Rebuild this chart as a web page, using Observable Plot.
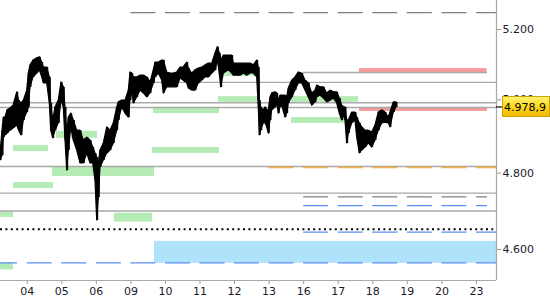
<!DOCTYPE html>
<html>
<head>
<meta charset="utf-8">
<script src="https://cdn.jsdelivr.net/npm/d3@7"></script>
<script src="https://cdn.jsdelivr.net/npm/@observablehq/plot@0.6"></script>
<style>
  html, body { margin: 0; padding: 0; background: #fff; }
  #chart { width: 550px; height: 300px; }
</style>
</head>
<body>
<div id="chart"></div>
<script>
// ---- data ----
const dayLabels = ["04","05","06","09","10","11","12","13","16","17","18","19","20","23"];
const dayIdx = dayLabels.map((_, i) => i);
const xStart = -0.773, xEnd = 13.58;          // visible time span (trading days)
const yDomain = [4521.3, 5284.7];              // visible price span
const yTicks = [4600, 4800, 5000, 5200];
const lastPrice = 4978.9;

// intraday price bars: [time (trading days), high, low]
const priceBars = [
[-0.773,4853,4834],[-0.715,4915,4847],[-0.677,4951,4896],[-0.628,4951,4902],[-0.570,4971,4907],
[-0.483,4976,4915],[-0.396,4984,4921],[-0.289,5021,4929],[-0.237,4998,4915],[-0.165,4990,4902],
[-0.098,4998,4943],[0.000,5026,4965],[0.046,5074,4979],[0.095,5097,5035],[0.182,5111,5063],
[0.289,5117,5074],[0.365,5120,5083],[0.434,5105,5063],[0.480,5091,5046],[0.579,5091,5046],
[0.654,5063,4990],[0.694,4990,4915],[0.752,4943,4894],[0.819,4979,4915],[0.914,4998,4935],
[0.992,5049,4998],[1.059,5035,4979],[1.108,4979,4888],[1.157,4907,4807],[1.204,4951,4861],
[1.273,4962,4924],[1.348,4943,4888],[1.447,4915,4861],[1.542,4915,4826],[1.638,4888,4826],
[1.736,4896,4853],[1.832,4888,4826],[1.910,4869,4826],[1.976,4853,4780],[2.025,4842,4675],
[2.072,4826,4735],[2.121,4861,4815],[2.216,4880,4834],[2.315,4924,4853],[2.410,4915,4861],
[2.506,4935,4880],[2.604,4979,4915],[2.650,4993,4943],[2.749,4998,4979],[2.844,4998,4962],
[2.940,5026,4951],[2.989,5077,4998],[3.038,5074,5026],[3.084,5063,4990],[3.183,5063,5007],
[3.278,5068,5026],[3.374,5068,5018],[3.472,5063,5007],[3.568,5049,5018],[3.663,5083,5046],
[3.712,5105,5063],[3.808,5105,5074],[3.906,5111,5054],[3.953,5111,5018],[4.051,5077,5035],
[4.146,5074,5035],[4.242,5074,5035],[4.340,5077,5035],[4.436,5091,5060],[4.522,5091,5054],
[4.630,5105,5046],[4.676,5088,5032],[4.774,5074,5026],[4.870,5083,5026],[4.965,5088,5046],
[5.064,5091,5054],[5.159,5097,5063],[5.255,5102,5063],[5.353,5102,5074],[5.449,5131,5083],
[5.515,5149,5111],[5.573,5131,5074],[5.613,5111,5035],[5.689,5125,5074],[5.833,5125,5083],
[5.932,5125,5074],[5.978,5102,5068],[6.076,5102,5068],[6.172,5102,5068],[6.267,5102,5074],
[6.366,5102,5068],[6.461,5102,5074],[6.557,5097,5074],[6.655,5111,5063],[6.701,5091,4979],
[6.730,4998,4902],[6.771,4979,4915],[6.846,4971,4935],[6.895,4979,4935],[6.944,4971,4924],
[6.991,4971,4907],[7.040,5007,4943],[7.089,5018,4971],[7.184,5021,4979],[7.234,5018,4990],
[7.280,4998,4962],[7.329,5012,4979],[7.378,5012,4984],[7.474,5012,4951],[7.523,5007,4962],
[7.569,5032,4990],[7.668,5054,5007],[7.763,5063,5026],[7.859,5077,5046],[7.957,5074,5046],
[8.053,5054,5026],[8.148,5046,5007],[8.247,5018,4984],[8.342,5026,4993],[8.391,5040,5007],
[8.487,5035,5012],[8.582,5035,5004],[8.681,5018,4993],[8.776,5026,4998],[8.872,5021,5004],
[8.970,5021,4990],[9.045,5004,4962],[9.115,4984,4943],[9.161,4979,4957],[9.210,4979,4943],
[9.259,4943,4880],[9.306,4943,4907],[9.404,4965,4935],[9.499,4965,4943],[9.549,4951,4896],
[9.624,4935,4853],[9.693,4924,4861],[9.789,4915,4869],[9.884,4915,4880],[9.983,4910,4869],
[10.078,4929,4888],[10.174,4965,4915],[10.272,4971,4935],[10.367,4965,4937],[10.463,4951,4935],
[10.512,4965,4924],[10.608,4993,4965],[10.686,4993,4979]
];

// horizontal levels
const fullLevels = [4992, lastPrice, 4818, 4747, 4700];
const partLevels = [[5049, 3, xEnd], [5077, 8, 13.32]];
const grayDashLevels = [[5249, 3, xEnd], [4737, 8, 13.32]];
const blueDashLevels = [[4714, 8, 13.32], [4645, 8, xEnd], [4566, xStart, xEnd]];
const orangeDashLevels = [[4815, 7, xEnd]];
const dottedLevels = [[4652, xStart, 13.50]];

// zones: [from, to, low, high]
const greenZones = [
  [-0.396, 0.616, 4858, 4874], [0.848, 2.034, 4894, 4913], [0.732, 3.683, 4791, 4815],
  [-0.396, 0.761, 4759, 4775], [xStart, -0.396, 4683, 4698], [2.526, 3.625, 4671, 4694],
  [xStart, -0.396, 4548, 4565], [3.654, 5.564, 4962, 4979], [3.625, 5.564, 4853, 4869],
  [5.535, 6.664, 4993, 5009], [5.535, 6.664, 5066, 5088], [7.648, 9.586, 4993, 5009],
  [7.648, 9.239, 4935, 4951]
];
const redZones = [[9.616, 13.305, 5077, 5088], [9.616, 13.32, 4968, 4979]];
const blueZones = [[3.683, xEnd, 4565, 4621]];

// ---- chart ----
const bars = priceBars.map(([t, hi, lo]) => ({t, hi, lo}));
const lv = a => a.map(([y, x1, x2]) => ({y, x1, x2}));
const zn = a => a.map(([x1, x2, y1, y2]) => ({x1, x2, y1, y2}));
const deFmt = d => d3.format(",")(d).replace(/,/g, ".");
const dayPx = 496 / (xEnd - xStart);

const chart = Plot.plot({
  width: 550,
  height: 300,
  marginLeft: 0,
  marginRight: 54,
  marginTop: 0,
  marginBottom: 20,
  style: {fontFamily: "DejaVu Sans, Verdana, sans-serif", fontSize: "11px", background: "#fff", color: "#999"},
  x: {domain: [xStart, xEnd], ticks: dayIdx, tickFormat: i => dayLabels[i], tickSize: 4, tickPadding: 3, label: null},
  y: {type: "log", domain: yDomain, ticks: yTicks, tickFormat: deFmt, axis: "right", tickSize: 4, tickPadding: 2, label: null},
  marks: [
    Plot.rect(zn(blueZones), {x1: "x1", x2: "x2", y1: "y1", y2: "y2", fill: "#aee3fb", clip: true}),
    Plot.rect(zn(greenZones), {x1: "x1", x2: "x2", y1: "y1", y2: "y2", fill: "#b5ebb5", clip: true}),
    Plot.rect(zn(redZones), {x1: "x1", x2: "x2", y1: "y1", y2: "y2", fill: "#f99a9a", clip: true}),
    Plot.ruleY(fullLevels, {stroke: "#a9a9a9", strokeWidth: 1.4}),
    Plot.ruleY(lv(partLevels), {y: "y", x1: "x1", x2: "x2", stroke: "#a9a9a9", strokeWidth: 1.4}),
    Plot.ruleY(lv(grayDashLevels), {y: "y", x1: "x1", x2: "x2", stroke: "#808080", strokeWidth: 1.3, strokeDasharray: `25,${dayPx - 25}`}),
    Plot.ruleY(lv(blueDashLevels), {y: "y", x1: "x1", x2: "x2", stroke: "#5b8ff0", strokeWidth: 1.3, strokeDasharray: `25,${dayPx - 25}`}),
    Plot.ruleY(lv(orangeDashLevels), {y: "y", x1: "x1", x2: "x2", stroke: "#f5b040", strokeWidth: 1.5, strokeDasharray: `25,${dayPx - 25}`}),
    Plot.ruleY(lv(dottedLevels), {y: "y", x1: "x1", x2: "x2", stroke: "#000", strokeWidth: 2, strokeDasharray: "2,3.4"}),
    Plot.areaY(bars, {x: "t", y1: "lo", y2: "hi", fill: "#000", stroke: "#000", strokeWidth: 1.2, clip: true}),
    Plot.ruleX(bars, {x: "t", y1: "lo", y2: "hi", stroke: "#000", strokeWidth: 2, clip: true}),
    Plot.ruleX([xEnd], {stroke: "#aaa", strokeWidth: 1.2}),
    Plot.ruleY([yDomain[0]], {stroke: "#aaa", strokeWidth: 1.2})
  ]
});

document.getElementById("chart").appendChild(chart);

const svg = d3.select(chart);
svg.selectAll("text").attr("fill", "#1a1a2a");

// dashed line starting at the left edge: align dashes with day ticks
svg.selectAll("line").each(function() {
  const el = d3.select(this);
  const da = el.attr("stroke-dasharray") || (this.parentNode && this.parentNode.getAttribute("stroke-dasharray"));
  if (da && String(da).startsWith("25")) {
    const x1 = +el.attr("x1");
    if (x1 < 1) el.attr("stroke-dashoffset", dayPx - 26.7);
  }
});

// last price label
let yScale;
try { yScale = chart.scale("y"); } catch (e) { yScale = null; }
const yPx = yScale && yScale.apply ? yScale.apply(lastPrice)
  : d3.scaleLog().domain(yDomain).range([280, 0])(lastPrice);
const defs = svg.append("defs");
const grad = defs.append("linearGradient").attr("id", "gold").attr("x1", 0).attr("y1", 0).attr("x2", 0).attr("y2", 1);
grad.append("stop").attr("offset", "0%").attr("stop-color", "#fff27a");
grad.append("stop").attr("offset", "45%").attr("stop-color", "#ffdc1e");
grad.append("stop").attr("offset", "100%").attr("stop-color", "#f0b800");
const g = svg.append("g").attr("text-anchor", "start");
g.append("line").attr("x1", 496).attr("x2", 503).attr("y1", yPx).attr("y2", yPx).attr("stroke", "#000").attr("stroke-width", 1.2);
g.append("rect").attr("x", 502.5).attr("y", yPx - 10.5).attr("width", 47).attr("height", 20)
  .attr("fill", "url(#gold)").attr("stroke", "#c9a400").attr("stroke-width", 1);
g.append("text").attr("x", 504).attr("y", yPx).attr("dy", "0.36em").attr("text-anchor", "start")
  .attr("font-family", "DejaVu Sans, Verdana, sans-serif").attr("font-size", "11px").attr("fill", "#000")
  .text(d3.format(".1f")(lastPrice).replace(".", ",").replace(/^(\d)(\d{3})/, "$1.$2"));
</script>
</body>
</html>
